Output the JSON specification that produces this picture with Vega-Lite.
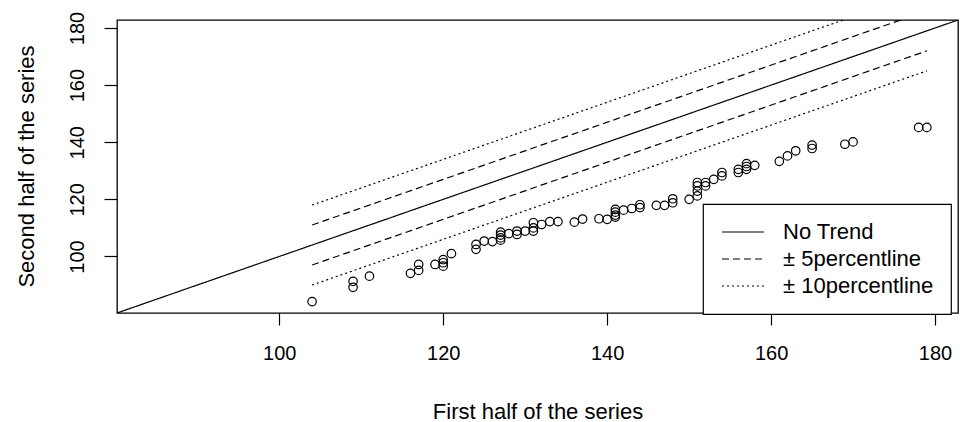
{
  "$schema": "https://vega.github.io/schema/vega-lite/v6.json",
  "width": 841,
  "height": 293,
  "autosize": {"type": "none"},
  "padding": {"left": 117, "top": 20, "right": 2, "bottom": 109},
  "background": "white",
  "datasets": {
    "pts": [
      {"first": 104, "second": 84.2},
      {"first": 109, "second": 91.3},
      {"first": 109, "second": 89.2},
      {"first": 111, "second": 93.1},
      {"first": 116, "second": 94.1},
      {"first": 117, "second": 97.2},
      {"first": 117, "second": 95.1},
      {"first": 119, "second": 97.2},
      {"first": 120, "second": 98.9},
      {"first": 120, "second": 97.8},
      {"first": 120, "second": 96.6},
      {"first": 121, "second": 101},
      {"first": 124, "second": 104.2},
      {"first": 124, "second": 102.5},
      {"first": 125, "second": 105.4},
      {"first": 126, "second": 105.2},
      {"first": 127, "second": 108.5},
      {"first": 127, "second": 107.5},
      {"first": 127, "second": 106.5},
      {"first": 127, "second": 105.7},
      {"first": 128, "second": 108},
      {"first": 129, "second": 108.9},
      {"first": 129, "second": 107.7},
      {"first": 130, "second": 108.9},
      {"first": 131, "second": 111.8},
      {"first": 131, "second": 110},
      {"first": 131, "second": 108.9},
      {"first": 132, "second": 111.2},
      {"first": 133, "second": 112.2},
      {"first": 134, "second": 112.2},
      {"first": 136, "second": 112},
      {"first": 137, "second": 113.1},
      {"first": 139, "second": 113.2},
      {"first": 140, "second": 113},
      {"first": 141, "second": 116.5},
      {"first": 141, "second": 115.5},
      {"first": 141, "second": 114.5},
      {"first": 141, "second": 113.8},
      {"first": 142, "second": 116.2},
      {"first": 143, "second": 116.8},
      {"first": 144, "second": 118.1},
      {"first": 144, "second": 117.1},
      {"first": 146, "second": 117.9},
      {"first": 147, "second": 117.9},
      {"first": 148, "second": 120.2},
      {"first": 148, "second": 118.8},
      {"first": 150, "second": 120},
      {"first": 151, "second": 121.2},
      {"first": 151, "second": 122.9},
      {"first": 151, "second": 124.7},
      {"first": 151, "second": 125.9},
      {"first": 152, "second": 125.9},
      {"first": 152, "second": 124.7},
      {"first": 153, "second": 127},
      {"first": 154, "second": 129.4},
      {"first": 154, "second": 128.2},
      {"first": 156, "second": 129.4},
      {"first": 156, "second": 130.5},
      {"first": 157, "second": 132.5},
      {"first": 157, "second": 131.5},
      {"first": 157, "second": 130.5},
      {"first": 158, "second": 131.9},
      {"first": 161, "second": 133.3},
      {"first": 162, "second": 135.2},
      {"first": 163, "second": 137},
      {"first": 165, "second": 139},
      {"first": 165, "second": 137.8},
      {"first": 169, "second": 139.3},
      {"first": 170, "second": 140.1},
      {"first": 178, "second": 145.2},
      {"first": 179, "second": 145.2}
    ],
    "lines": [
      {"type": "No Trend", "line": "trend", "x": 0, "y": 0},
      {"type": "No Trend", "line": "trend", "x": 300, "y": 300},
      {"type": "± 5percentline", "line": "up5", "x": 104, "y": 111},
      {"type": "± 5percentline", "line": "up5", "x": 179, "y": 186},
      {"type": "± 5percentline", "line": "lo5", "x": 104, "y": 97},
      {"type": "± 5percentline", "line": "lo5", "x": 179, "y": 172},
      {"type": "± 10percentline", "line": "up10", "x": 104, "y": 118},
      {"type": "± 10percentline", "line": "up10", "x": 179, "y": 193},
      {"type": "± 10percentline", "line": "lo10", "x": 104, "y": 90},
      {"type": "± 10percentline", "line": "lo10", "x": 179, "y": 165}
    ]
  },
  "layer": [
    {
      "data": {"name": "lines"},
      "mark": {"type": "line", "stroke": "black", "strokeWidth": 1.2, "clip": true},
      "encoding": {
        "x": {"field": "x", "type": "quantitative", "scale": {"domain": [80.2, 182.8], "nice": false, "zero": false},
          "axis": {"values": [100, 120, 140, 160, 180], "title": "First half of the series", "grid": false, "domain": false,
            "tickSize": 12, "tickColor": "black", "tickWidth": 1.2, "labelFontSize": 20, "labelFont": "Liberation Sans", "labelColor": "black",
            "labelPadding": 18, "labelBaseline": "top",
            "titleFontSize": 22, "titleFont": "Liberation Sans", "titleFontWeight": "normal", "titleColor": "black",
            "titleY": 105, "titleBaseline": "alphabetic"}},
        "y": {"field": "y", "type": "quantitative", "scale": {"domain": [80.2, 182.8], "nice": false, "zero": false},
          "axis": {"values": [100, 120, 140, 160, 180], "title": "Second half of the series", "grid": false, "domain": false,
            "tickSize": 13, "tickColor": "black", "tickWidth": 1.2, "labelFontSize": 20, "labelFont": "Liberation Sans", "labelColor": "black",
            "labelAngle": -90, "labelAlign": "center", "labelBaseline": "alphabetic", "labelPadding": 21,
            "titleFontSize": 22, "titleFont": "Liberation Sans", "titleFontWeight": "normal", "titleColor": "black",
            "titleAngle": -90, "titleX": -84, "titleY": 146, "titleAlign": "center", "titleBaseline": "alphabetic"}},
        "detail": {"field": "line"},
        "strokeDash": {"field": "type", "type": "nominal",
          "scale": {"domain": ["No Trend", "± 5percentline", "± 10percentline"], "range": [[1, 0], [7, 4], [2, 3]]},
          "legend": {"title": null, "orient": "none", "legendX": 586, "legendY": 184, "padding": 17,
            "fillColor": "white", "strokeColor": "black", "cornerRadius": 0,
            "symbolType": "M-4.2,0H4.2", "symbolSize": 100, "symbolOffset": 12, "symbolStrokeColor": "black", "symbolStrokeWidth": 1.2,
            "labelFontSize": 22, "labelFont": "Liberation Sans", "labelColor": "black", "labelOffset": 29,
            "rowPadding": 5, "labelLimit": 300,
            "encode": {
              "legend": {"update": {"strokeWidth": {"value": 1.2}}}
            }}}
      }
    },
    {
      "data": {"name": "pts"},
      "mark": {"type": "point", "shape": "circle", "filled": false, "stroke": "black", "strokeWidth": 1.2, "size": 72, "opacity": 1},
      "encoding": {
        "x": {"field": "first", "type": "quantitative"},
        "y": {"field": "second", "type": "quantitative"}
      }
    }
  ],
  "config": {
    "view": {"stroke": "black", "strokeWidth": 1.3},
    "font": "Liberation Sans"
  }
}
